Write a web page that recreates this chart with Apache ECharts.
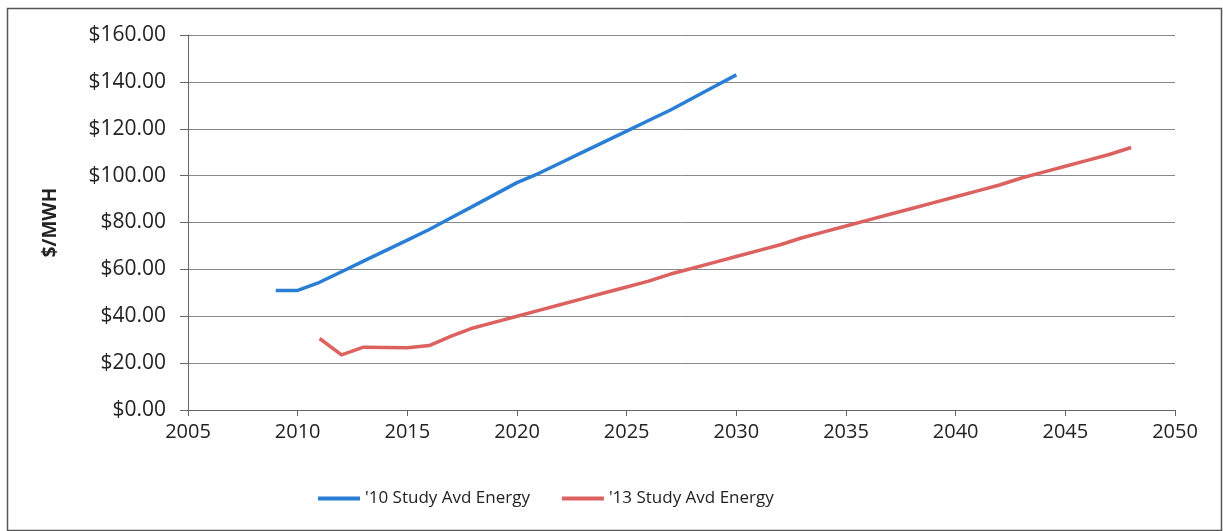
<!DOCTYPE html>
<html>
<head>
<meta charset="utf-8">
<script src="https://cdn.jsdelivr.net/npm/echarts@6/dist/echarts.min.js"></script>
<style>
html,body{margin:0;padding:0;background:#fff;}
#c{width:1223px;height:531px;}
</style>
</head>
<body>
<div id="c"></div>
<script>
const years10 = [2009,2010,2011,2012,2013,2014,2015,2016,2017,2018,2019,2020,2021,2022,2023,2024,2025,2026,2027,2028,2029,2030];
const values10 = [51,51,54.5,59,63.5,68,72.5,77,82,87,92,97,101,105.5,110,114.5,119,123.5,128,133,138,143];
const years13 = [2011,2012,2013,2014,2015,2016,2017,2018,2019,2020,2021,2022,2023,2024,2025,2026,2027,2028,2029,2030,2031,2032,2033,2034,2035,2036,2037,2038,2039,2040,2041,2042,2043,2044,2045,2046,2047,2048];
const values13 = [30.5,23.5,26.8,26.7,26.6,27.5,31.5,35,37.5,40,42.5,45,47.5,50,52.5,55,58,60.5,63,65.5,68,70.5,73.5,76,78.5,81,83.5,86,88.5,91,93.5,96,99,101.5,104,106.5,109,112];
const seriesNames = ["'10 Study Avd Energy", "'13 Study Avd Energy"];
const yAxisTitle = "$/MWH";

const font = "'Open Sans', sans-serif";
const chart = echarts.init(document.getElementById('c'));
chart.setOption({
  animation: false,
  backgroundColor: '#fff',
  graphic: [{
    type: 'rect', left: 5, top: 6, z: -1,
    shape: {width: 1214, height: 522},
    style: {fill: 'none', stroke: '#555', lineWidth: 1.5}
  }],
  grid: {left: 188, right: 48, top: 35, bottom: 121},
  legend: {
    left: 313, top: 485,
    itemWidth: 42, itemHeight: 4, itemGap: 32,
    icon: 'rect',
    textStyle: {fontFamily: font, fontSize: 17, color: '#222'},
    data: seriesNames
  },
  xAxis: {
    type: 'value', min: 2005, max: 2050, interval: 5,
    axisLine: {show: true, lineStyle: {color: '#666', width: 1}},
    axisTick: {show: true, inside: false, length: 6, lineStyle: {color: '#666'}},
    axisLabel: {fontFamily: font, fontSize: 20, color: '#222', margin: 12,
      formatter: v => String(v)},
    splitLine: {show: false}
  },
  yAxis: {
    type: 'value', min: 0, max: 160, interval: 20,
    name: yAxisTitle, nameLocation: 'middle', nameGap: 128, nameRotate: 90,
    nameTextStyle: {fontFamily: font, fontSize: 19, fontWeight: 'bold', color: '#222'},
    axisLine: {show: true, lineStyle: {color: '#666', width: 1}},
    axisTick: {show: true, inside: false, length: 8, lineStyle: {color: '#666'}},
    axisLabel: {fontFamily: font, fontSize: 21, color: '#222', margin: 22,
      formatter: v => '$' + v.toFixed(2)},
    splitLine: {show: true, lineStyle: {color: '#888', width: 1}}
  },
  series: [
    {
      name: seriesNames[0], type: 'line', showSymbol: false, symbol: 'none',
      data: years10.map((y, i) => [y, values10[i]]),
      lineStyle: {color: '#2a7fd4', width: 3.5},
      itemStyle: {color: '#2a7fd4'}
    },
    {
      name: seriesNames[1], type: 'line', showSymbol: false, symbol: 'none',
      data: years13.map((y, i) => [y, values13[i]]),
      lineStyle: {color: '#dc6260', width: 3.5},
      itemStyle: {color: '#dc6260'}
    }
  ]
});
</script>
</body>
</html>
